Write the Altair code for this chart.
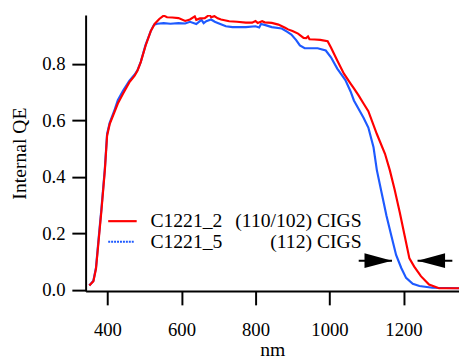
import altair as alt
import pandas as pd

# ---- data ----
red_nm = [351, 362, 369, 375, 384, 393, 399, 406, 420, 428, 442, 459, 473, 481, 490,
          503, 517, 528, 540, 552, 561, 575, 592, 610, 623, 636, 640, 650, 663, 676,
          680, 689, 698, 707, 729, 750, 774, 791, 800, 806, 818, 825, 844, 862, 880,
          888, 900, 915, 930, 937, 942, 946, 960, 975, 995, 1004, 1021, 1039, 1057,
          1066, 1079, 1092, 1105, 1128, 1150, 1163, 1176, 1190, 1203, 1216, 1229,
          1247, 1269, 1296, 1350]
red_qe = [0.015, 0.030, 0.074, 0.158, 0.285, 0.424, 0.546, 0.587, 0.633, 0.660, 0.695,
          0.735, 0.758, 0.776, 0.807, 0.865, 0.917, 0.943, 0.960, 0.972, 0.966, 0.965,
          0.963, 0.953, 0.958, 0.969, 0.957, 0.962, 0.963, 0.975, 0.966, 0.970, 0.962,
          0.958, 0.952, 0.950, 0.947, 0.947, 0.953, 0.946, 0.952, 0.948, 0.946, 0.940,
          0.929, 0.923, 0.917, 0.908, 0.893, 0.892, 0.898, 0.888, 0.887, 0.886, 0.881,
          0.859, 0.813, 0.766, 0.731, 0.714, 0.688, 0.660, 0.633, 0.552, 0.482, 0.424,
          0.355, 0.274, 0.192, 0.111, 0.082, 0.048, 0.018, 0.005, 0.005]

blue_nm = [351, 362, 369, 375, 384, 393, 399, 406, 420, 428, 442, 459, 473, 481, 490,
           503, 517, 526, 535, 552, 570, 592, 610, 623, 640, 654, 660, 667, 680, 690,
           698, 720, 738, 774, 800, 810, 815, 827, 844, 871, 885, 897, 910, 920, 933,
           968, 990, 1004, 1021, 1043, 1057, 1066, 1092, 1105, 1119, 1128, 1141, 1154,
           1167, 1180, 1194, 1207, 1225, 1243, 1278, 1350]
blue_qe = [0.015, 0.032, 0.078, 0.165, 0.292, 0.430, 0.552, 0.592, 0.640, 0.672, 0.705,
           0.740, 0.762, 0.778, 0.808, 0.868, 0.917, 0.940, 0.943, 0.945, 0.943, 0.945,
           0.944, 0.950, 0.942, 0.957, 0.945, 0.952, 0.958, 0.950, 0.946, 0.934, 0.931,
           0.931, 0.934, 0.930, 0.942, 0.938, 0.931, 0.926, 0.915, 0.905, 0.885, 0.866,
           0.856, 0.856, 0.848, 0.824, 0.784, 0.743, 0.703, 0.671, 0.610, 0.575, 0.505,
           0.424, 0.343, 0.262, 0.192, 0.123, 0.077, 0.042, 0.021, 0.013, 0.007, 0.005]

x_ticks = [400, 600, 800, 1000, 1200]
y_ticks = [0.0, 0.2, 0.4, 0.6, 0.8]

legend_names = ["C1221_2", "C1221_5"]
legend_suffix = ["(110/102) CIGS", "(112) CIGS"]
legend_qe = [0.243, 0.170]

arrow_tip_nm = [1169, 1238]
arrow_tail_nm = [1079, 1332]
arrow_qe = [0.103, 0.103]
arrow_dir = ["right", "left"]

X_DOMAIN = [341, 1350]
Y_DOMAIN = [-0.005, 0.974]
RED = "#ff0000"
BLUE = "#1e5aff"
FONT = "Liberation Serif"

red_df = pd.DataFrame({"nm": red_nm, "qe": red_qe})
blue_df = pd.DataFrame({"nm": blue_nm, "qe": blue_qe})
leg_df = pd.DataFrame({"name": legend_names, "suffix": legend_suffix, "qe": legend_qe,
                       "nm_line0": [402, 402], "nm_line1": [479, 471],
                       "nm_text": [516, 516], "nm_right": [1087, 1087]})
arr_df = pd.DataFrame({"nm": arrow_tip_nm, "nm2": arrow_tail_nm, "qe": arrow_qe, "dir": arrow_dir})

xs = alt.Scale(domain=X_DOMAIN, nice=False, zero=False)
ys = alt.Scale(domain=Y_DOMAIN, nice=False, zero=False)

xax = alt.Axis(values=x_ticks, format="d", title="nm", grid=False,
               tickSize=14, tickWidth=2, domainWidth=2, domainColor="black", tickColor="black",
               labelFont=FONT, labelFontSize=19, labelColor="black", labelPadding=16,
               titleFont=FONT, titleFontSize=20, titleFontWeight="normal", titleColor="black",
               titlePadding=1, labelFlush=False)
yax = alt.Axis(values=y_ticks, format=".1f", title="Internal QE", grid=False,
               tickSize=14, tickWidth=2, domainWidth=2, domainColor="black", tickColor="black",
               labelFont=FONT, labelFontSize=19, labelColor="black", labelPadding=7,
               titleFont=FONT, titleFontSize=20, titleFontWeight="normal", titleColor="black",
               titlePadding=12, labelFlush=False)

def X(field="nm"):
    return alt.X(f"{field}:Q", scale=xs, axis=xax)

def Y(field="qe"):
    return alt.Y(f"{field}:Q", scale=ys, axis=yax)

blue_line = alt.Chart(blue_df).mark_line(color=BLUE, strokeWidth=2.2, clip=True).encode(x=X(), y=Y())
red_line = alt.Chart(red_df).mark_line(color=RED, strokeWidth=2.2, clip=True).encode(x=X(), y=Y())

leg_red = alt.Chart(leg_df.iloc[[0]]).mark_rule(color=RED, strokeWidth=2.2).encode(
    x=X("nm_line0"), x2="nm_line1:Q", y=Y())
leg_blue = alt.Chart(leg_df.iloc[[1]]).mark_rule(color=BLUE, strokeWidth=2.2, strokeDash=[2, 1]).encode(
    x=X("nm_line0"), x2="nm_line1:Q", y=Y())
leg_text = alt.Chart(leg_df).mark_text(align="left", baseline="middle", font=FONT, fontSize=20,
                                       color="black").encode(x=X("nm_text"), y=Y(), text="name:N")
leg_text2 = alt.Chart(leg_df).mark_text(align="right", baseline="middle", font=FONT, fontSize=20,
                                        color="black").encode(x=X("nm_right"), y=Y(), text="suffix:N")

stems = alt.Chart(arr_df).mark_rule(color="black", strokeWidth=2).encode(
    x=X(), x2="nm2:Q", y=Y())
heads = alt.Chart(arr_df).mark_point(filled=True, opacity=1, size=784, color="black", strokeWidth=0).encode(
    x=X(), y=Y(),
    shape=alt.Shape("dir:N", legend=None,
                    scale=alt.Scale(domain=["right", "left"],
                                    range=["M -2 -0.54 L 0 0 L -2 0.54 Z",
                                           "M 2 -0.54 L 0 0 L 2 0.54 Z"])))

chart = alt.layer(blue_line, red_line, leg_red, leg_blue, leg_text, leg_text2, stems, heads).properties(
    width=380, height=281,
    autosize=alt.AutoSizeParams(type="none"),
    padding={"left": 79, "top": 4, "right": 0, "bottom": 68},
    background="white",
).configure_view(stroke=None)

chart.save("out.html", embed_options={"renderer": "svg", "actions": False})
